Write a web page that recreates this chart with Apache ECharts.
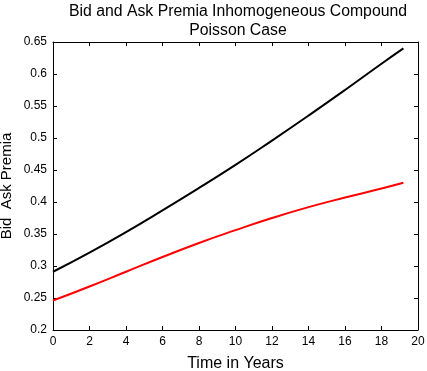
<!DOCTYPE html>
<html>
<head>
<meta charset="utf-8">
<script src="https://cdn.jsdelivr.net/npm/echarts@6/dist/echarts.min.js"></script>
<style>
  html, body { margin: 0; padding: 0; background: #fff; }
  #chart { width: 427px; height: 371px; }
</style>
</head>
<body>
<div id="chart"></div>
<script>
// values
const years = [0, 2, 4, 6, 8, 10, 12, 14, 16, 18, 19.2];
const askPremia = [0.291, 0.321, 0.353, 0.387, 0.422, 0.458, 0.496, 0.535, 0.575, 0.616, 0.640];
const bidPremia = [0.246, 0.268, 0.291, 0.314, 0.336, 0.356, 0.375, 0.392, 0.407, 0.421, 0.430];

const font = "'Liberation Sans', Arial, Helvetica, sans-serif";
const chart = echarts.init(document.getElementById("chart"));

const frameAxis = {
  axisLine: { show: true, onZero: false, lineStyle: { color: "#000", width: 1 } },
  axisTick: { show: true, inside: true, length: 4, lineStyle: { color: "#000" } },
  splitLine: { show: false },
};

chart.setOption({
  backgroundColor: "#fff",
  animation: false,
  title: {
    text: "Bid and Ask Premia Inhomogeneous Compound\nPoisson Case",
    left: 233,
    textAlign: "center",
    top: -3,
    textStyle: { fontFamily: font, fontSize: 15.8, fontWeight: "normal", color: "#000", lineHeight: 19 },
  },
  grid: { left: 53, right: 9, top: 42, bottom: 41, outerBoundsMode: "none", containLabel: false },
  xAxis: [
    {
      type: "value", min: 0, max: 20, interval: 2, position: "bottom",
      name: "Time in Years", nameLocation: "middle", nameGap: 26,
      nameTextStyle: { fontFamily: font, fontSize: 16, color: "#000" },
      axisLabel: { fontFamily: font, fontSize: 12, color: "#000", margin: 6 },
      ...frameAxis,
    },
    {
      type: "value", min: 0, max: 20, interval: 2, position: "top",
      axisLabel: { show: false },
      ...frameAxis,
    },
  ],
  yAxis: [
    {
      type: "value", min: 0.2, max: 0.65, interval: 0.05, position: "left",
      name: "Bid  Ask Premia", nameLocation: "middle", nameGap: 39,
      nameMoveOverlap: false,
      nameTextStyle: { fontFamily: font, fontSize: 15, color: "#000" },
      axisLabel: { fontFamily: font, fontSize: 12, color: "#000", margin: 6,
        formatter: (v) => String(+v.toFixed(2)) },
      ...frameAxis,
    },
    {
      type: "value", min: 0.2, max: 0.65, interval: 0.05, position: "right",
      axisLabel: { show: false },
      ...frameAxis,
    },
  ],
  series: [
    {
      name: "Ask", type: "line", smooth: true, symbol: "none",
      lineStyle: { color: "#000", width: 2 },
      data: years.map((x, i) => [x, askPremia[i]]),
    },
    {
      name: "Bid", type: "line", smooth: true, symbol: "none",
      lineStyle: { color: "#ff0000", width: 2 },
      data: years.map((x, i) => [x, bidPremia[i]]),
    },
  ],
});
</script>
</body>
</html>
